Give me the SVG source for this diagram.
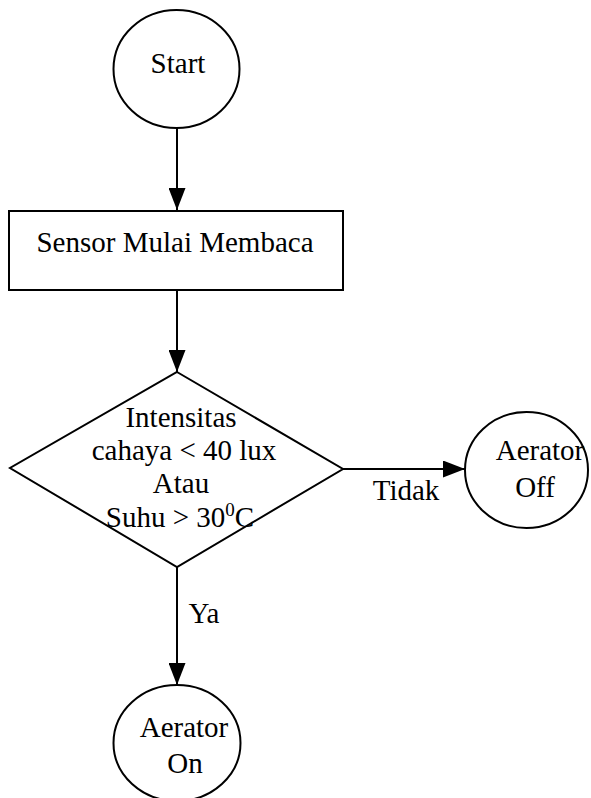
<svg xmlns="http://www.w3.org/2000/svg" width="591" height="798" viewBox="0 0 591 798" font-family="'Liberation Serif', 'Times New Roman', serif">
<defs>
<style>
.shape{fill:#fff;stroke:#000;stroke-width:2}
.line{fill:none;stroke:#000;stroke-width:2}
text{font-family:"Liberation Serif","Times New Roman",serif;font-size:29px;fill:#000}
.c{text-anchor:middle}
</style>
<marker id="arr" markerWidth="22" markerHeight="17" refX="22" refY="8.5" orient="auto" markerUnits="userSpaceOnUse">
<path d="M0,0 L22,8.5 L0,17 Z" fill="#000"/>
</marker>
</defs>
<g id="connectors">
<line class="line" x1="177" y1="128" x2="177" y2="210" marker-end="url(#arr)"/>
<line class="line" x1="177" y1="290" x2="177" y2="372" marker-end="url(#arr)"/>
<line class="line" x1="343" y1="469" x2="465" y2="469" marker-end="url(#arr)"/>
<line class="line" x1="177" y1="567" x2="177" y2="685" marker-end="url(#arr)"/>
<text x="406" y="500" class="c">Tidak</text>
<text x="204" y="623" class="c">Ya</text>
</g>
<g id="start">
<ellipse class="shape" cx="176.5" cy="69" rx="63" ry="59"/>
<text x="178" y="73" class="c">Start</text>
</g>
<g id="sensor">
<rect class="shape" x="9" y="211" width="334" height="79"/>
<text x="175" y="252" class="c">Sensor Mulai Membaca</text>
</g>
<g id="decision">
<polygon class="shape" points="177,372 343,469 177,567 10,468"/>
<text x="181" y="427" class="c">Intensitas</text>
<text x="184" y="460" class="c">cahaya &lt; 40 lux</text>
<text x="181" y="493" class="c">Atau</text>
<text x="180" y="527" class="c">Suhu &gt; 30<tspan font-size="19" dy="-11">0</tspan><tspan dy="11">C</tspan></text>
</g>
<g id="aerator-off">
<ellipse class="shape" cx="526.5" cy="470" rx="61.5" ry="58"/>
<text x="540" y="460" class="c">Aerator</text>
<text x="535" y="497" class="c">Off</text>
</g>
<g id="aerator-on">
<ellipse class="shape" cx="177" cy="743" rx="63.5" ry="58"/>
<text x="184" y="737" class="c">Aerator</text>
<text x="185" y="773" class="c">On</text>
</g>
</svg>
